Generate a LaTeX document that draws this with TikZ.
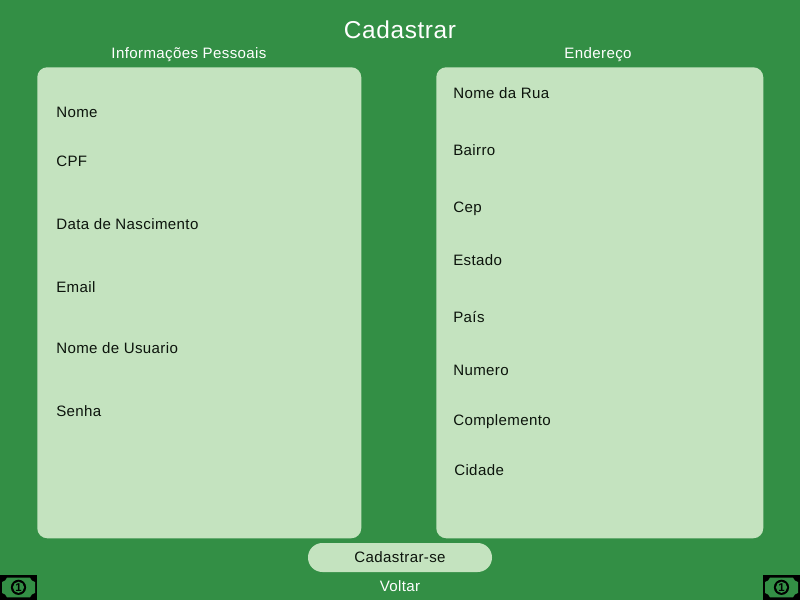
\documentclass[tikz,border=0pt]{standalone}
\usepackage{fontspec}
\setmainfont[LetterSpace=2.5]{Liberation Sans}
\usetikzlibrary{positioning}

\definecolor{fundo}{RGB}{51,143,69}
\definecolor{painel}{RGB}{196,227,191}
\definecolor{tinta}{RGB}{12,20,12}

\tikzset{
  painelbox/.style={fill=painel, rounded corners=7.5pt, inner sep=0pt, anchor=north west},
  campo/.style={text=tinta, font=\fontsize{11.3}{13}\selectfont, inner sep=0pt, anchor=west,
    text height=9pt, text depth=1.3pt},
  secao/.style={text=white, font=\fontsize{11.3}{13}\selectfont, inner sep=0pt,
    text height=9pt, text depth=1.3pt},
  nota/.pic={
    \fill[black] (0,0) rectangle (27.75pt,18.75pt);
    \fill[fundo] (1.5pt,5.25pt) to[bend left=30] (5.25pt,2pt) -- (22.5pt,2pt)
      to[bend left=30] (26.25pt,5.25pt) -- (26.25pt,13.5pt)
      to[bend left=30] (22.5pt,16.75pt) -- (5.25pt,16.75pt) to[bend left=30] (1.5pt,13.5pt) -- cycle;
    \fill[black] (13.875pt,9.5pt) circle (5.7pt);
    \fill[fundo] (13.875pt,9.5pt) circle (4.2pt);
    \node[text=black, inner sep=0pt, font=\bfseries\fontsize{8.5}{9}\selectfont] at (13.875pt,9.5pt) {1};
  }
}

\begin{document}
\begin{tikzpicture}[x=0.75pt, y=-0.75pt]

  % fundo da tela
  \fill[fundo] (0,0) rectangle (800,600);
  \useasboundingbox (0,0) rectangle (800,600);

  % ==================== PAINEIS ====================

  \node (Pessoais) [painelbox, minimum width=243pt, minimum height=353.25pt] at (37,67) {};
  \node (Endereco) [painelbox, minimum width=245.25pt, minimum height=353.25pt] at (436,67) {};
  \node (Botao) [fill=painel, rounded corners=10.8pt, minimum width=138pt, minimum height=21.75pt, inner sep=0pt]
    at (400,557.5) {};

  % ==================== TITULOS ====================

  \node (Titulo) [text=white, inner sep=0pt, font=\fontsize{18.3}{20}\selectfont] at (400,30) {Cadastrar};
  \node (InfoTitulo) [secao] at (189,53) {Informações Pessoais};
  \node (EndTitulo) [secao] at (598,53) {Endereço};

  % ==================== CAMPOS ====================

  \node (Nome) [campo] at (56,112) {Nome};
  \node (CPF) [campo, below=36.75pt of Nome.west, anchor=west] {CPF};
  \node (Nascimento) [campo, below=47.25pt of CPF.west, anchor=west] {Data de Nascimento};
  \node (Email) [campo, below=47.25pt of Nascimento.west, anchor=west] {Email};
  \node (Usuario) [campo, below=45.75pt of Email.west, anchor=west] {Nome de Usuario};
  \node (Senha) [campo, below=47.25pt of Usuario.west, anchor=west] {Senha};

  \node (Rua) [campo] at (453,93) {Nome da Rua};
  \node (Bairro) [campo, below=42.75pt of Rua.west, anchor=west] {Bairro};
  \node (Cep) [campo, below=42.75pt of Bairro.west, anchor=west] {Cep};
  \node (Estado) [campo, below=39.75pt of Cep.west, anchor=west] {Estado};
  \node (Pais) [campo, below=42.75pt of Estado.west, anchor=west] {País};
  \node (Numero) [campo, below=39.75pt of Pais.west, anchor=west] {Numero};
  \node (Complemento) [campo, below=37.5pt of Numero.west, anchor=west] {Complemento};
  \node (Cidade) [campo, below=37.5pt of Complemento.west, anchor=west, xshift=0.75pt] {Cidade};

  % ==================== RODAPE ====================

  \node (Cadastrarse) [campo, anchor=center] at (Botao.center) {Cadastrar-se};
  \node (Voltar) [secao] at (400,586) {Voltar};

  \pic at (0,600) {nota};
  \pic at (763,600) {nota};

\end{tikzpicture}
\end{document}
